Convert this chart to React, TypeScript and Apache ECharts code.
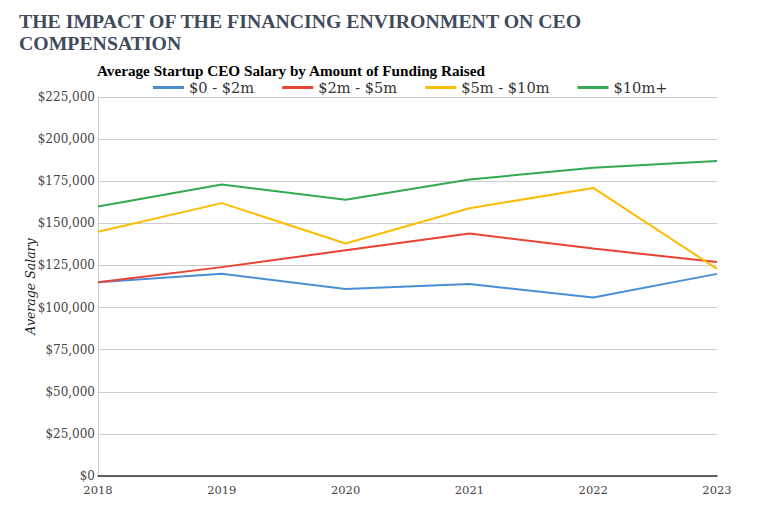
import React, { useEffect, useRef } from "react";
import * as echarts from "echarts";

const years = ["2018", "2019", "2020", "2021", "2022", "2023"];
const seriesNames = ["$0 - $2m", "$2m - $5m", "$5m - $10m", "$10m+"];
const funding0to2 = [115000, 120000, 111000, 114000, 106000, 120000];
const funding2to5 = [115000, 124000, 134000, 144000, 135000, 127000];
const funding5to10 = [145000, 162000, 138000, 159000, 171000, 123000];
const funding10plus = [160000, 173000, 164000, 176000, 183000, 187000];
const seriesColors = ["#4a8fd6", "#ea4335", "#fbbc04", "#34a853"];

const SERIF = "'Liberation Serif', serif";
const WIDE_SERIF = "'DejaVu Serif', serif";

function money(v: number): string {
  return "$" + v.toLocaleString("en-US");
}

export default function App() {
  const ref = useRef<HTMLDivElement>(null);

  useEffect(() => {
    if (!ref.current) return;
    const chart = echarts.init(ref.current, null, { renderer: "svg" });
    const data = [funding0to2, funding2to5, funding5to10, funding10plus];
    chart.setOption({
      animation: false,
      backgroundColor: "#ffffff",
      title: [
        {
          text: "THE IMPACT OF THE FINANCING ENVIRONMENT ON CEO\nCOMPENSATION",
          left: 14,
          top: 5,
          textStyle: {
            fontFamily: SERIF,
            fontSize: 19.8,
            fontWeight: "bold",
            color: "#404b5c",
            lineHeight: 22,
          },
        },
        {
          text: "Average Startup CEO Salary by Amount of Funding Raised",
          left: 92,
          top: 58,
          textStyle: {
            fontFamily: SERIF,
            fontSize: 15.2,
            fontWeight: "bold",
            color: "#000000",
          },
        },
      ],
      legend: {
        top: 75,
        left: 148,
        itemWidth: 31,
        itemHeight: 3,
        itemGap: 28,
        icon: "rect",
        data: seriesNames,
        textStyle: { fontFamily: WIDE_SERIF, fontSize: 14.6, color: "#333333" },
      },
      grid: { left: 98, right: 43, top: 97, bottom: 52 },
      xAxis: {
        type: "category",
        data: years,
        boundaryGap: false,
        axisLine: { show: true, lineStyle: { color: "#333333", width: 1.5 } },
        axisTick: { show: false },
        axisLabel: {
          fontFamily: WIDE_SERIF,
          fontSize: 11.5,
          color: "#444444",
          margin: 8,
        },
        splitLine: { show: false },
      },
      yAxis: {
        type: "value",
        min: 0,
        max: 225000,
        interval: 25000,
        name: "Average Salary",
        nameLocation: "middle",
        nameGap: 61,
        nameRotate: 90,
        nameMoveOverlap: false,
        nameTextStyle: {
          fontFamily: WIDE_SERIF,
          fontStyle: "italic",
          fontSize: 12.5,
          color: "#222222",
        },
        axisLine: { show: true, lineStyle: { color: "#cccccc", width: 1 } },
        axisTick: { show: false },
        axisLabel: {
          fontFamily: WIDE_SERIF,
          fontSize: 12,
          color: "#444444",
          margin: 3,
          formatter: (v: number) => money(v),
        },
        splitLine: { lineStyle: { color: "#cccccc", width: 1 } },
      },
      series: seriesNames.map((name, i) => ({
        name,
        type: "line",
        data: data[i],
        showSymbol: false,
        symbol: "none",
        lineStyle: { width: 2, color: seriesColors[i] },
        itemStyle: { color: seriesColors[i] },
      })),
    });
    return () => chart.dispose();
  }, []);

  return <div ref={ref} style={{ width: 760, height: 528, margin: -8 }} />;
}
